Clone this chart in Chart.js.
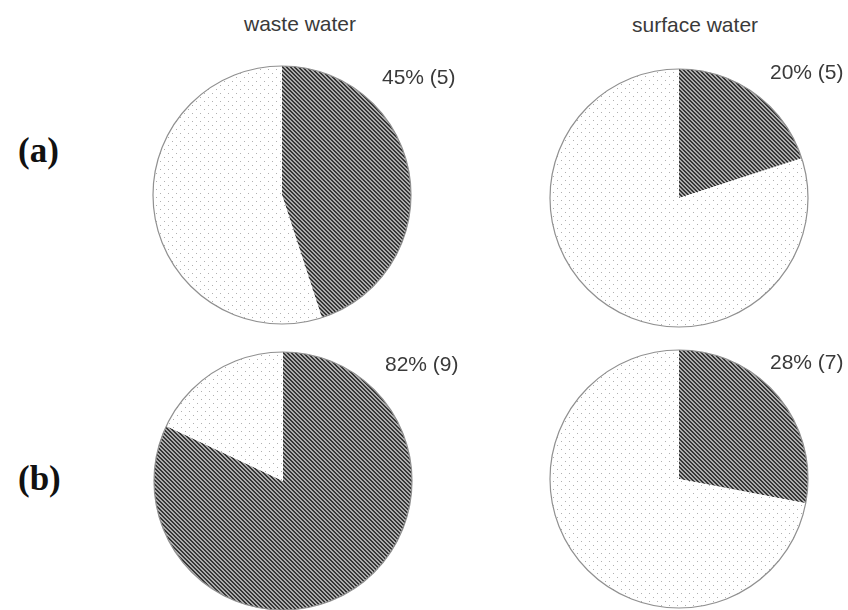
<!DOCTYPE html>
<html>
<head>
<meta charset="utf-8">
<script src="https://cdn.jsdelivr.net/npm/chart.js@4.4.1/dist/chart.umd.min.js"></script>
<style>
  body { margin: 0; background: #fff; width: 848px; height: 610px; position: relative; overflow: hidden; }
  .pie { position: absolute; width: 262px; height: 262px; }
  .txt { position: absolute; font-family: "Liberation Sans", Arial, sans-serif; font-size: 21px; color: #3a3a3a; white-space: nowrap; line-height: 1; }
  .panel { position: absolute; font-family: "Liberation Serif", serif; font-weight: bold; font-size: 35px; color: #111; line-height: 1; }
</style>
</head>
<body>
<div class="panel" style="left:18px;top:133px">(a)</div>
<div class="panel" style="left:18px;top:461px">(b)</div>
<div class="txt" style="left:244px;top:13px">waste water</div>
<div class="txt" style="left:632px;top:14px">surface water</div>

<canvas id="c0" class="pie"></canvas>
<canvas id="c1" class="pie"></canvas>
<canvas id="c2" class="pie"></canvas>
<canvas id="c3" class="pie"></canvas>

<script>
// positive share of samples per panel: (a) waste, (a) surface, (b) waste, (b) surface
let sources = ["waste water", "surface water"];
let positivePct = [45, 20, 82, 28];
let positiveN = [5, 5, 9, 7];

// where each pie sits on the page and where its label goes
let centers = [[282, 195], [679, 198], [283, 481], [679, 479]];
let labelPos = [[382, 66], [770, 61], [385, 353], [770, 351]];

function makeDark() {
    let c = document.createElement('canvas');
    c.width = 4; c.height = 4;
    let g = c.getContext('2d');
    g.fillStyle = '#acacac';
    g.fillRect(0, 0, 4, 4);
    g.fillStyle = '#363636';
    for (let y = 0; y < 4; y++) {
        for (let x = 0; x < 4; x++) {
            if (((x - y) % 4 + 4) % 4 < 2) g.fillRect(x, y, 1, 1);
        }
    }
    return g.createPattern(c, 'repeat');
}

function makeDots() {
    let c = document.createElement('canvas');
    c.width = 8; c.height = 8;
    let g = c.getContext('2d');
    g.fillStyle = '#fff';
    g.fillRect(0, 0, 8, 8);
    g.fillStyle = '#b0b0b0';
    g.fillRect(1, 1, 1, 1);
    g.fillRect(5, 5, 1, 1);
    return g.createPattern(c, 'repeat');
}

// outer circle only, no lines between slices
let outline = {
    id: 'outline',
    afterDatasetsDraw(chart) {
        let arc = chart.getDatasetMeta(0).data[0];
        if (!arc) return;
        let ctx = chart.ctx;
        ctx.save();
        ctx.beginPath();
        ctx.arc(arc.x, arc.y, arc.outerRadius, 0, Math.PI * 2);
        ctx.strokeStyle = '#909090';
        ctx.lineWidth = 1.2;
        ctx.stroke();
        ctx.restore();
    }
};

for (let i = 0; i < 4; i++) {
    let cv = document.getElementById('c' + i);
    cv.style.left = (centers[i][0] - 131) + 'px';
    cv.style.top = (centers[i][1] - 131) + 'px';

    let lab = document.createElement('div');
    lab.className = 'txt';
    lab.style.left = labelPos[i][0] + 'px';
    lab.style.top = labelPos[i][1] + 'px';
    lab.textContent = positivePct[i] + '% (' + positiveN[i] + ')';
    document.body.appendChild(lab);

    let g = cv.getContext('2d');
    new Chart(g, {
        type: 'pie',
        data: {
            labels: ['positive', 'negative'],
            datasets: [{
                data: [positivePct[i], 100 - positivePct[i]],
                backgroundColor: [makeDark(), makeDots()],
                borderWidth: 0
            }]
        },
        options: {
            responsive: false,
            animation: false,
            layout: { padding: 2 },
            plugins: { legend: { display: false }, tooltip: { enabled: false } }
        },
        plugins: [outline]
    });
}
</script>
</body>
</html>
